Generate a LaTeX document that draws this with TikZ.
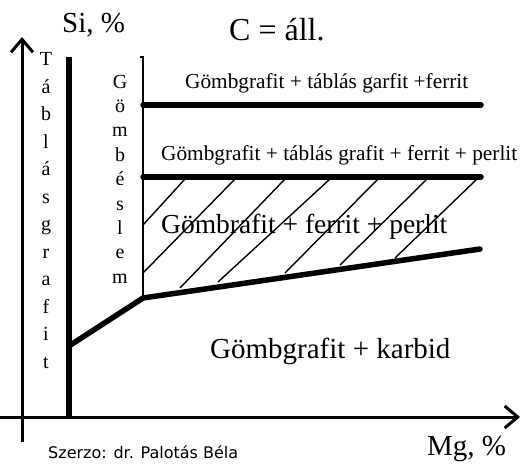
\documentclass[tikz,border=0pt]{standalone}
\usepackage{fontspec}
\setmainfont{Liberation Serif}
\newfontfamily\authfont{DejaVu Sans}
\usetikzlibrary{arrows.meta}

\begin{document}
\begin{tikzpicture}[
  x=1pt, y=-1pt,
  axis/.style={line width=3pt, -{Straight Barb[length=13pt,width=22pt]}},
  bound/.style={line width=5.5pt, line cap=round},
  thin/.style={line width=2pt},
  hatch/.style={line width=1.4pt},
  lbl/.style={anchor=base west, inner sep=0pt},
  vlet/.style={anchor=base, inner sep=0pt, font=\fontsize{20}{20}\selectfont},
]
\useasboundingbox (0,0) rectangle (521,464);

% axes
\coordinate (yb) at (22,442);
\coordinate (yt) at (22,37);
\coordinate (xl) at (0,417);
\coordinate (xr) at (520,417);
\draw[axis] (yb) -- (yt);
\draw[axis] (xl) -- (xr);

% phase boundaries
\coordinate (ta) at (69,57);
\coordinate (tb) at (69,418);
\coordinate (k1) at (69,346);
\coordinate (k2) at (143,298);
\coordinate (k3) at (480,249);
\coordinate (gt) at (143,57);
\draw[line width=5.5pt] (ta) -- (tb);
\draw[thin] (140,57) -- (gt) -- (k2);
\draw[bound] (143,105) -- (481,105);
\draw[bound] (143,177) -- (481,177);
\draw[bound] (k1) -- (k2) -- (k3);

% hatching
\foreach \xa/\xb/\yb in {185/143/225, 235/143/273, 285/180/288, 330/218/282,
                          378/285/273, 427/340/265, 477/395/258}
  \draw[hatch] (\xa,179) -- (\xb,\yb);

% labels
\node[lbl, font=\fontsize{29}{29}\selectfont] (si) at (62,32) {Si, \%};
\node[lbl, font=\fontsize{32}{32}\selectfont] (c) at (229,40) {C = áll.};
\node[lbl, font=\fontsize{21.3}{22}\selectfont] (f1) at (185,88) {Gömbgrafit + táblás garfit +ferrit};
\node[lbl, font=\fontsize{21.3}{22}\selectfont] (f2) at (161,160) {Gömbgrafit + táblás grafit + ferrit + perlit};
\node[lbl, font=\fontsize{27.5}{28}\selectfont] (f3) at (161,233) {Gömbrafit + ferrit + perlit};
\node[lbl, font=\fontsize{29}{29}\selectfont] (f4) at (210,358) {Gömbgrafit + karbid};
\node[lbl, font=\fontsize{29}{29}\selectfont] (mg) at (427,455) {Mg, \%};
\node[lbl, font=\authfont\fontsize{16}{17}\selectfont] (aut) at (48,458) {Szerzo: dr. Palotás Béla};

% vertical words
\foreach \ch [count=\i from 0] in {T,á,b,l,á,s,g,r,a,f,i,t}
  \node[vlet] (tg\i) at (46,65.5+27.5*\i) {\ch};
\foreach \ch [count=\i from 0] in {G,ö,m,b,é,s,l,e,m}
  \node[vlet] (gs\i) at (120,88+24.4*\i) {\ch};

\end{tikzpicture}
\end{document}
